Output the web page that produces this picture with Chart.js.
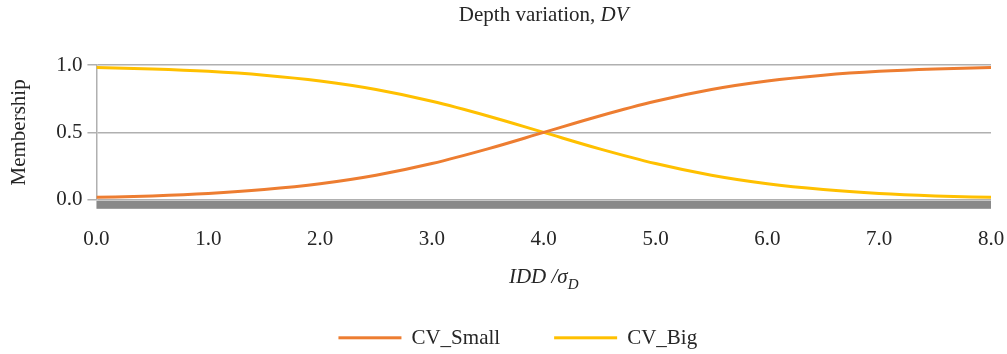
<!DOCTYPE html>
<html>
<head>
<meta charset="utf-8">
<script src="https://cdn.jsdelivr.net/npm/chart.js@4.4.0/dist/chart.umd.min.js"></script>
<style>
  html, body { margin: 0; padding: 0; background: #fff; }
  #wrap { width: 1007px; height: 354px; position: relative; }
</style>
</head>
<body>
<div id="wrap"><canvas id="mycanvas" width="1007" height="354"></canvas></div>
<script>
// x = IDD / sigma_D
var xValues = [0.0, 0.5, 1.0, 1.5, 2.0, 2.5, 3.0, 3.5, 4.0, 4.5, 5.0, 5.5, 6.0, 6.5, 7.0, 7.5, 8.0];
var cvSmall = [0.018, 0.029, 0.047, 0.076, 0.119, 0.182, 0.269, 0.378, 0.500, 0.622, 0.731, 0.818, 0.881, 0.924, 0.953, 0.971, 0.982];
var cvBig   = [0.982, 0.971, 0.953, 0.924, 0.881, 0.818, 0.731, 0.622, 0.500, 0.378, 0.269, 0.182, 0.119, 0.076, 0.047, 0.029, 0.018];
var seriesNames = ["CV_Small", "CV_Big"];
var seriesColors = ["#ED7D31", "#FFC000"];
var yTicks = [0.0, 0.5, 1.0];
var xTicks = [0, 1, 2, 3, 4, 5, 6, 7, 8];

var serif = "'Liberation Serif', 'Times New Roman', serif";
var textColor = "#262626";

function toPoints(ys) {
	var pts = [];
	for (var i in xValues) {
		pts.push({x: xValues[i], y: ys[i]});
	}
	return pts;
}

// thick gray bar under the plot, titles with italic parts, bottom legend
var extras = {
	id: 'extras',
	afterDraw: function(chart) {
		var ctx = chart.ctx;
		var a = chart.chartArea;
		ctx.save();
		ctx.fillStyle = "#898989";
		ctx.fillRect(a.left, a.bottom + 1, a.right - a.left, 8);

		var cx = (a.left + a.right) / 2;
		ctx.fillStyle = textColor;
		ctx.textBaseline = "alphabetic";
		ctx.textAlign = "left";

		// chart title
		var t1 = "Depth variation, ", t2 = "DV";
		ctx.font = "21px " + serif;
		var w1 = ctx.measureText(t1).width;
		ctx.font = "italic 21px " + serif;
		var w2 = ctx.measureText(t2).width;
		var x0 = cx - (w1 + w2) / 2;
		ctx.font = "21px " + serif;
		ctx.fillText(t1, x0, 21);
		ctx.font = "italic 21px " + serif;
		ctx.fillText(t2, x0 + w1, 21);

		// x axis title  IDD /σ_D
		var s1 = "IDD /\u03C3", s2 = "D";
		ctx.font = "italic 21px " + serif;
		var v1 = ctx.measureText(s1).width;
		ctx.font = "italic 15px " + serif;
		var v2 = ctx.measureText(s2).width;
		var xx = cx - (v1 + v2) / 2;
		var by = a.bottom + 83;
		ctx.font = "italic 21px " + serif;
		ctx.fillText(s1, xx, by);
		ctx.font = "italic 15px " + serif;
		ctx.fillText(s2, xx + v1, by + 6);

		// legend
		var lx = a.left + 242, ly = a.bottom + 138;
		ctx.font = "21px " + serif;
		ctx.textBaseline = "middle";
		for (var i in chart.data.datasets) {
			var ds = chart.data.datasets[i];
			ctx.fillStyle = ds.borderColor;
			ctx.fillRect(lx, ly - 1.5, 63, 3);
			lx += 63 + 10;
			ctx.fillStyle = textColor;
			ctx.fillText(ds.label, lx, ly + 1);
			lx += ctx.measureText(ds.label).width + 54;
		}
		ctx.restore();
	}
};

var chartdata = {
	datasets: [
		{
			label: seriesNames[0],
			data: toPoints(cvSmall),
			borderColor: seriesColors[0],
			backgroundColor: seriesColors[0],
			borderWidth: 3,
			pointRadius: 0,
			fill: false,
			cubicInterpolationMode: 'monotone'
		},
		{
			label: seriesNames[1],
			data: toPoints(cvBig),
			borderColor: seriesColors[1],
			backgroundColor: seriesColors[1],
			borderWidth: 3,
			pointRadius: 0,
			fill: false,
			cubicInterpolationMode: 'monotone'
		}
	]
};

var ctx = document.getElementById("mycanvas");

var LineGraph = new Chart(ctx, {
	type: 'line',
	data: chartdata,
	plugins: [extras],
	options: {
		responsive: false,
		animation: false,
		layout: { padding: { top: 65, left: 4, right: 16, bottom: 102 } },
		plugins: {
			title: { display: false },
			tooltip: { enabled: false },
			legend: { display: false }
		},
		scales: {
			x: {
				type: 'linear',
				min: 0,
				max: 8,
				afterBuildTicks: function(axis) {
					axis.ticks = xTicks.map(function(v) { return {value: v}; });
				},
				grid: { display: true, drawOnChartArea: false, drawTicks: true, tickLength: 27, tickColor: 'rgba(0,0,0,0)' },
				border: { display: false },
				ticks: {
					padding: 0,
					maxRotation: 0,
					color: textColor,
					font: { family: serif, size: 21 },
					callback: function(v) { return Number(v).toFixed(1); }
				}
			},
			y: {
				min: 0,
				max: 1,
				afterBuildTicks: function(axis) {
					axis.ticks = yTicks.map(function(v) { return {value: v}; });
				},
				grid: { color: "#b0b0b0", lineWidth: 1.5, tickLength: 9 },
				border: { color: "#b0b0b0", width: 1.5 },
				ticks: {
					padding: 5,
					color: textColor,
					font: { family: serif, size: 21 },
					callback: function(v) { return Number(v).toFixed(1); }
				},
				title: { display: true, text: 'Membership', color: textColor, font: { family: serif, size: 21 }, padding: { top: 3, bottom: 19 } }
			}
		}
	}
});
</script>
</body>
</html>
